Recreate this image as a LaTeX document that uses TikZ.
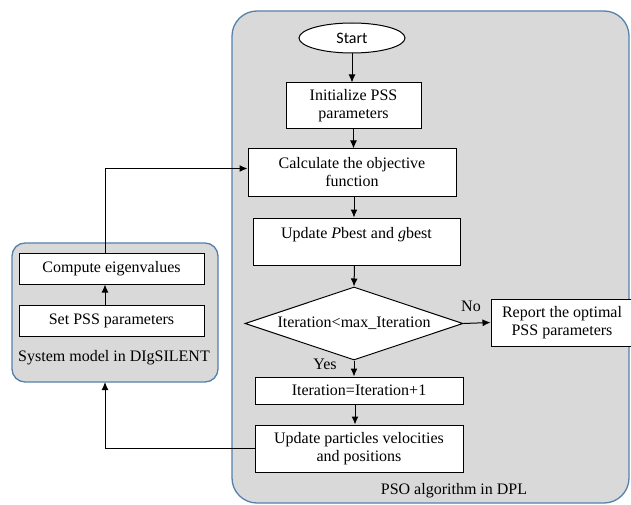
\documentclass[tikz,border=0pt]{standalone}
\usepackage{fontspec}
\setmainfont{Liberation Serif}
\newfontfamily\startfont{Carlito}
\usetikzlibrary{shapes.geometric,arrows.meta}
\definecolor{panelfill}{RGB}{217,217,217}
\definecolor{panelline}{RGB}{84,128,172}
\tikzset{
  panel/.style={draw=panelline,fill=panelfill,line width=1.3pt},
  box/.style={draw=black,fill=white,line width=1pt,align=center,inner sep=0pt,
    font=\fontsize{16}{18}\selectfont},
  lbl/.style={font=\fontsize{16}{18}\selectfont,inner sep=0pt},
  arr/.style={-{Latex[length=8pt,width=7pt]},line width=1pt},
}
\begin{document}
\begin{tikzpicture}[x=1pt,y=-1pt]
\clip (0,0) rectangle (631,505);
\fill[white] (0,0) rectangle (631,505);
% panels
\draw[panel,rounded corners=25] (232,11) rectangle (629,503);
\draw[panel,rounded corners=13] (12,243) rectangle (218,382);
% right flow
\node[box,ellipse,minimum width=106,minimum height=30,font=\startfont\fontsize{16}{18}\selectfont] (start) at (352,38) {Start};
\node[box,minimum width=135,minimum height=46] (init) at (353.5,106) {Initialize PSS\\parameters};
\node[box,minimum width=208,minimum height=47] (calc) at (352,172.5) {Calculate the objective\\function};
\node[box,minimum width=207,minimum height=47] (upd) at (356.5,241.5) {Update \textit{P}best and \textit{g}best\\\mbox{}};
\node[box,diamond,aspect=3,minimum width=218,minimum height=73] (dec) at (354,323.5) {Iteration<max\_Iteration};
\node[box,minimum width=142,minimum height=47] (rep) at (562,322.5) {Report the optimal\\PSS parameters};
\node[box,minimum width=208,minimum height=27] (iter) at (359,390.5) {Iteration=Iteration+1};
\node[box,minimum width=208,minimum height=47] (part) at (359,448.5) {Update particles velocities\\and positions};
\node[lbl] (pso) at (454,491) {PSO algorithm in DPL};
\node[lbl] (no) at (471,306) {No};
\node[lbl] (yes) at (325,364) {Yes};
% left panel
\coordinate (lbot) at (105,382);
\node[box,minimum width=185,minimum height=31] (comp) at (111.5,268.5) {Compute eigenvalues};
\node[box,minimum width=185,minimum height=31] (setp) at (111.5,320.5) {Set PSS parameters};
\node[lbl] (sys) at (114,358) {System model in DIgSILENT};
% connectors
\draw[arr] (start.south) -- (start.south |- init.north);
\draw[arr] (init.south) -- (init.south |- calc.north);
\draw[arr] ([xshift=2pt]calc.south) -- ([xshift=2pt]calc.south |- upd.north);
\draw[arr] ([xshift=-2pt]upd.south) -- (dec.north);
\draw[arr] (dec.east) -- (rep.west);
\draw[arr] (dec.south) -- (dec.south |- iter.north);
\draw[arr] ([xshift=-4pt]iter.south) -- ([xshift=-4pt]part.north);
\draw[arr] (setp.north -| lbot) -- (comp.south -| lbot);
\draw[arr] (comp.north -| lbot) |- ([yshift=4pt]calc.west);
\draw[arr] (part.west) -| (lbot);
\end{tikzpicture}
\end{document}
